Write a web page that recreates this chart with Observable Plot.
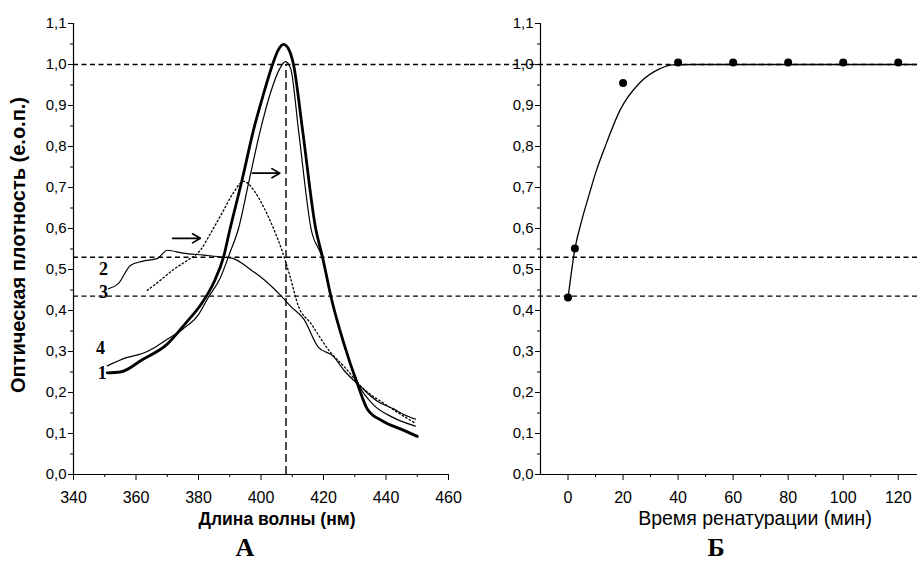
<!DOCTYPE html>
<html>
<head>
<meta charset="utf-8">
<script src="https://cdn.jsdelivr.net/npm/d3@7"></script>
<script src="https://cdn.jsdelivr.net/npm/@observablehq/plot@0.6"></script>
<style>
  html, body { margin: 0; padding: 0; background: white; }
  #fig { position: relative; width: 917px; height: 573px; overflow: hidden; background: white; }
  #fig > svg { position: absolute; top: 0; }
</style>
</head>
<body>
<div id="fig"></div>
<script>
// ---------- Panel A: absorption spectra ----------
const wl1 = [350.8, 355, 362, 370, 376, 381, 385, 388, 390, 394, 397.6, 400.5, 403.7, 405.5, 407.2, 409, 410.4, 413.3, 417.5, 419.7, 422.5, 426.5, 430.9, 434, 439, 445, 450];
const od1 = [0.248, 0.25, 0.28, 0.318, 0.37, 0.417, 0.47, 0.53, 0.596, 0.72, 0.84, 0.92, 1.0, 1.035, 1.049, 1.035, 1.0, 0.84, 0.6, 0.53, 0.43, 0.32, 0.22, 0.16, 0.13, 0.11, 0.093];

const wl4 = [350.8, 357, 362, 366, 370, 375, 380, 383, 387, 390, 392.8, 396, 399.8, 403, 406, 407.8, 409.5, 412, 416, 419.5, 422.5, 426.5, 431.5, 436, 442, 449.4];
const od4 = [0.265, 0.285, 0.295, 0.31, 0.33, 0.355, 0.39, 0.43, 0.48, 0.54, 0.6, 0.71, 0.84, 0.93, 0.99, 1.007, 0.99, 0.84, 0.6, 0.53, 0.43, 0.32, 0.215, 0.17, 0.14, 0.118];

const wl2 = [351.2, 354.4, 358.2, 362, 366.9, 370, 375, 381.6, 388, 391, 396.6, 401, 406.5, 409.5, 413.6, 418.4, 422.9, 427, 431.8, 437, 442.4, 446, 449.4];
const od2 = [0.453, 0.466, 0.51, 0.52, 0.527, 0.547, 0.54, 0.535, 0.53, 0.527, 0.50, 0.475, 0.435, 0.41, 0.38, 0.31, 0.29, 0.25, 0.215, 0.18, 0.16, 0.145, 0.135];

const wl3 = [363.6, 368, 372, 376, 380.6, 384, 387.7, 391, 394.5, 398, 401, 404, 407, 409.4, 412, 415.8, 422, 427, 432, 440, 449.4];
const od3 = [0.449, 0.475, 0.50, 0.52, 0.547, 0.59, 0.64, 0.685, 0.715, 0.69, 0.65, 0.60, 0.54, 0.48, 0.41, 0.37, 0.30, 0.26, 0.215, 0.17, 0.125];

const curveLabelText = ["1", "2", "3", "4"];
const curveLabelX = [349.2, 349.6, 349.6, 348.6];
const curveLabelY = [0.246, 0.50, 0.444, 0.307];

const arrowX1 = [371.7, 397.3];
const arrowX2 = [380.6, 406.0];
const arrowY = [0.576, 0.735];

const refLevels = [1.0, 0.53, 0.435];
const peakWl = [408];

const xTicksA = [340, 360, 380, 400, 420, 440, 460];
const xMinorA = [350, 370, 390, 410, 430, 450];
const yTicks = [0, 0.1, 0.2, 0.3, 0.4, 0.5, 0.6, 0.7, 0.8, 0.9, 1.0, 1.1];
const yMinor = [0.05, 0.15, 0.25, 0.35, 0.45, 0.55, 0.65, 0.75, 0.85, 0.95, 1.05];

const yTitle = "Оптическая плотность (е.о.п.)";
const xTitleA = "Длина волны (нм)";
const panelA = "А";

// ---------- Panel B: renaturation kinetics ----------
const timePts = [0, 2.5, 20, 40, 60, 80, 100, 120];
const odPts = [0.432, 0.551, 0.955, 1.005, 1.005, 1.005, 1.005, 1.005];

const timeFit = [0, 2.5, 5, 8, 10, 13.5, 19, 26, 33.5, 38, 45, 60, 80, 100, 120, 127];
const odFit = [0.43, 0.55, 0.62, 0.69, 0.735, 0.80, 0.89, 0.955, 0.99, 0.999, 1.0, 1.0, 1.0, 1.0, 1.0, 1.0];

const xTicksB = [0, 20, 40, 60, 80, 100, 120];
const xMinorB = [10, 30, 50, 70, 90, 110];
const xTitleB = "Время ренатурации (мин)";
const panelB = "Б";

// ---------- helpers ----------
const zip = (xs, ys) => xs.map((x, i) => ({x, y: ys[i]}));
const fmt = d => d.toFixed(1).replace(".", ",");
const sans = "Liberation Sans, Arial, sans-serif";
const serif = "Liberation Serif, Times New Roman, serif";

const c1 = zip(wl1, od1), c2 = zip(wl2, od2), c3 = zip(wl3, od3), c4 = zip(wl4, od4);
const labelsA = curveLabelText.map((t, i) => ({t, x: curveLabelX[i], y: curveLabelY[i]}));
const arrowsA = arrowX1.map((x1, i) => ({x1, x2: arrowX2[i], y: arrowY[i]}));
const ptsB = zip(timePts, odPts);
const fitB = zip(timeFit, odFit);

const common = {
  height: 573, marginTop: 23, marginBottom: 99,
  y: {domain: [0, 1.1], label: null},
  style: {fontFamily: sans, background: "white", color: "black", overflow: "visible"}
};

const left = Plot.plot({
  ...common,
  width: 470, marginLeft: 73, marginRight: 22,
  x: {domain: [340, 460], label: null},
  marks: [
    Plot.ruleY(refLevels, {stroke: "black", strokeWidth: 1.4, strokeDasharray: "5,3.5", insetRight: -22}),
    Plot.ruleX(peakWl, {y1: 0, y2: 1.0, stroke: "black", strokeWidth: 1.4, strokeDasharray: "8,4"}),
    Plot.line(c3, {x: "x", y: "y", stroke: "black", strokeWidth: 1.3, strokeDasharray: "1.5,2.5", curve: "monotone-x"}),
    Plot.line(c2, {x: "x", y: "y", stroke: "black", strokeWidth: 1.2, curve: "monotone-x"}),
    Plot.line(c4, {x: "x", y: "y", stroke: "black", strokeWidth: 1.2, curve: "monotone-x"}),
    Plot.line(c1, {x: "x", y: "y", stroke: "black", strokeWidth: 2.8, curve: "monotone-x"}),
    Plot.arrow(arrowsA, {x1: "x1", x2: "x2", y1: "y", y2: "y", stroke: "black", strokeWidth: 1.7, headLength: 8}),
    Plot.text(labelsA, {x: "x", y: "y", text: "t", fontFamily: serif, fontWeight: "bold", fontSize: 18, fill: "black"}),
    Plot.ruleX([340], {stroke: "black", strokeWidth: 1.2}),
    Plot.ruleY([0], {stroke: "black", strokeWidth: 1.2}),
    Plot.axisX({ticks: xTicksA, tickSize: 6, tickPadding: 11, fontSize: 16, tickFormat: d => String(d), label: null}),
    Plot.axisX({ticks: xMinorA, tickSize: 3, tickFormat: () => "", label: null}),
    Plot.axisY({ticks: yTicks, tickSize: 5, tickPadding: 2, fontSize: 15, tickFormat: fmt, label: null}),
    Plot.axisY({ticks: yMinor, tickSize: 3, tickFormat: () => "", label: null}),
    Plot.text([yTitle], {frameAnchor: "left", dx: -55, dy: -4, rotate: -90, fontSize: 20, fontWeight: "bold", textAnchor: "middle", fill: "black"}),
    Plot.text([xTitleA], {frameAnchor: "bottom", dy: 50, dx: 16, fontSize: 17.5, fontWeight: "bold", fill: "black"}),
    Plot.text([panelA], {frameAnchor: "bottom", dy: 81, dx: -16, fontSize: 26, fontWeight: "bold", fontFamily: serif, fill: "black"})
  ]
});
left.style.left = "0px";

const right = Plot.plot({
  ...common,
  width: 447, marginLeft: 70, marginRight: 0,
  x: {domain: [-10, 127], label: null},
  marks: [
    Plot.ruleY(refLevels, {stroke: "black", strokeWidth: 1.4, strokeDasharray: "5,3.5", insetLeft: -70}),
    Plot.line(fitB, {x: "x", y: "y", stroke: "black", strokeWidth: 1.3, curve: "monotone-x"}),
    Plot.dot(ptsB, {x: "x", y: "y", r: 4, fill: "black", stroke: "none"}),
    Plot.ruleX([-10], {stroke: "black", strokeWidth: 1.2}),
    Plot.ruleY([0], {stroke: "black", strokeWidth: 1.2}),
    Plot.axisX({ticks: xTicksB, tickSize: 6, tickPadding: 11, fontSize: 16, tickFormat: d => String(d), label: null}),
    Plot.axisX({ticks: xMinorB, tickSize: 3, tickFormat: () => "", label: null}),
    Plot.axisY({ticks: yTicks, tickSize: 5, tickPadding: 2, fontSize: 15, tickFormat: fmt, label: null}),
    Plot.axisY({ticks: yMinor, tickSize: 3, tickFormat: () => "", label: null}),
    Plot.text([xTitleB], {frameAnchor: "bottom", dy: 50, dx: 26, fontSize: 19.5, fill: "black"}),
    Plot.text([panelB], {frameAnchor: "bottom", dy: 81, dx: -13, fontSize: 26, fontWeight: "bold", fontFamily: serif, fill: "black"})
  ]
});
right.style.left = "470px";

const fig = document.getElementById("fig");
fig.appendChild(left);
fig.appendChild(right);
</script>
</body>
</html>
